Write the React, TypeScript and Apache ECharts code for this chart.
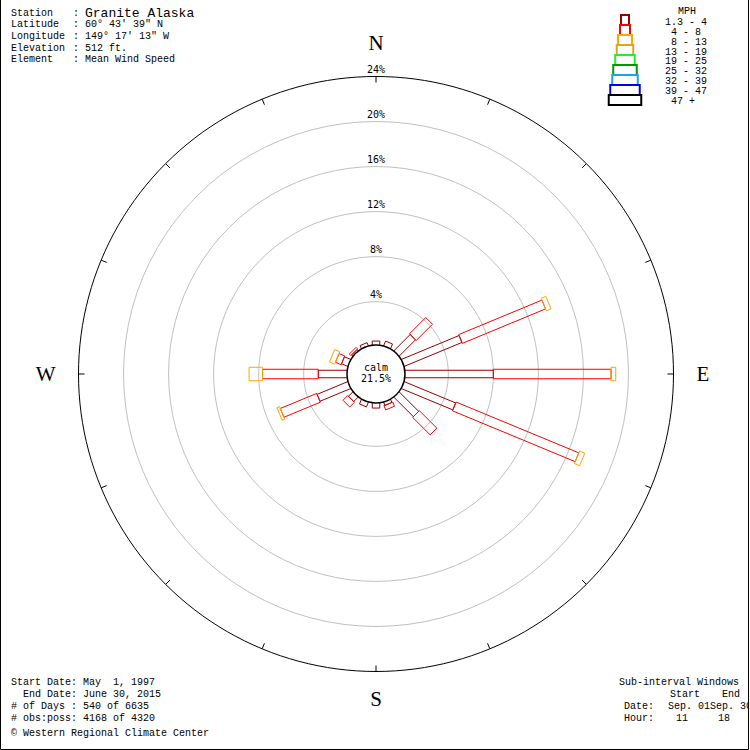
import React, { useEffect, useRef } from 'react';
import * as echarts from 'echarts';

// ---------- data ----------
const DIRECTIONS = ['N', 'NNE', 'NE', 'ENE', 'E', 'ESE', 'SE', 'SSE', 'S', 'SSW', 'SW', 'WSW', 'W', 'WNW', 'NW', 'NNW'];
const CARDINALS = ['N', 'E', 'S', 'W'];
const SPEED_CLASSES = ['1.3 - 4', ' 4 - 8', ' 8 - 13', '13 - 19', '19 - 25', '25 - 32', '32 - 39', '39 - 47', ' 47 +'];
// percent of observations by direction, per speed class (mph)
const PCT_1_4 = [0.5, 0.6, 2.2, 5.7, 8.0, 5.1, 2.6, 0.45, 0.6, 0.6, 0.7, 3.1, 2.7, 0.75, 0.3, 0.45];
const PCT_4_8 = [0, 0, 2.05, 8.0, 10.45, 11.8, 2.2, 0.4, 0, 0, 0.6, 3.5, 4.95, 0.55, 0.2, 0];
const PCT_8_13 = [0, 0, 0, 0.45, 0.42, 0.5, 0, 0, 0, 0, 0, 0.25, 1.2, 0.5, 0, 0];
const CLASS_PCTS = [PCT_1_4, PCT_4_8, PCT_8_13];
const CALM_PCT = 21.5;
const RING_MAX = 24;
const RING_STEP = 4;

const HEADER_LABELS = ['Station', 'Latitude', 'Longitude', 'Elevation', 'Element'];
const HEADER_VALUES = ['Granite Alaska', '60\u00b0 43\' 39" N', '149\u00b0 17\' 13" W', '512 ft.', 'Mean Wind Speed'];
const FOOTER_LINES = ['Start Date: May  1, 1997', 'End Date: June 30, 2015', '# of Days : 540 of 6635', '# obs:poss: 4168 of 4320', '\u00a9 Western Regional Climate Center'];
const WINDOW_TITLE = 'Sub-interval Windows';
const WINDOW_HEAD = ['Start', 'End'];
const WINDOW_DATE = ['Date:', 'Sep. 01Sep. 30'];
const WINDOW_HOUR = ['Hour:', '11', '18'];

// ---------- styles / layout ----------
const CLASS_COLORS = ['#990000', '#ff0000', '#ffa500', '#daa520', '#22ee22', '#009900', '#1ea0f0', '#0000ee', '#000000'];
const CLASS_WIDTHS = [7.5, 9.5, 13.5, 16, 19, 23, 25, 29, 32];
const SECTOR = 360 / DIRECTIONS.length;
const CX = 376;
const CY = 374;
const R_IN = 27.3;
const R_OUT = 297.5;
const CALM_R = 29;
const MONO = 'Liberation Mono';
const MONO2 = 'DejaVu Sans Mono';

function buildSegments() {
  const out: any[] = [];
  for (let c = 0; c < CLASS_PCTS.length; c++) {
    for (let d = 0; d < DIRECTIONS.length; d++) {
      let start = 0;
      for (let k = 0; k < c; k++) start += CLASS_PCTS[k][d];
      const v = CLASS_PCTS[c][d];
      if (v > 0) out.push([d * SECTOR, c, start, start + v]);
    }
  }
  return out;
}

function renderPetal(params: any, api: any) {
  const a = api.value(0);
  const c = api.value(1);
  const s = api.value(2);
  const e = api.value(3);
  const p0 = api.coord([s, a]);
  const p1 = api.coord([e, a]);
  const th = ((90 - a) * Math.PI) / 180;
  const ux = Math.cos(th);
  const uy = -Math.sin(th);
  const nx = -uy;
  const ny = ux;
  const hw = CLASS_WIDTHS[c] / 2;
  return {
    type: 'polygon',
    shape: {
      points: [
        [p0[0] + nx * hw, p0[1] + ny * hw],
        [p1[0] + nx * hw, p1[1] + ny * hw],
        [p1[0] - nx * hw, p1[1] - ny * hw],
        [p0[0] - nx * hw, p0[1] - ny * hw],
      ],
    },
    style: { fill: 'none', stroke: CLASS_COLORS[c], lineWidth: 1 },
  };
}

function buildGraphics() {
  const g: any[] = [];
  const txt = (x: number, y: number, text: string, size = 10, family = MONO, extra: any = {}, z = 50) => ({
    type: 'text',
    x,
    y,
    z,
    style: { text, fontFamily: family, fontSize: size, fill: '#000', verticalAlign: 'middle', align: 'left', ...extra },
  });
  // header
  HEADER_LABELS.forEach((l, i) => {
    const y = 13 + i * 11.7;
    g.push(txt(11, y, l));
    g.push(txt(73, y, ':'));
    g.push(txt(85, y, HEADER_VALUES[i], i === 0 ? 13 : 10));
  });
  // footer left
  FOOTER_LINES.forEach((l, i) => {
    const y = [682, 694, 706, 718, 733][i];
    g.push(txt(i === 1 ? 23 : 11, y, l));
  });
  // footer right
  g.push(txt(619, 682, WINDOW_TITLE));
  g.push(txt(670, 694, WINDOW_HEAD[0]));
  g.push(txt(722, 694, WINDOW_HEAD[1]));
  g.push(txt(624, 706, WINDOW_DATE[0]));
  g.push(txt(668, 706, WINDOW_DATE[1]));
  g.push(txt(624, 718, WINDOW_HOUR[0]));
  g.push(txt(676, 718, WINDOW_HOUR[1]));
  g.push(txt(718, 718, WINDOW_HOUR[2]));
  // legend
  g.push(txt(687, 11, 'MPH', 10, MONO, { align: 'center' }));
  SPEED_CLASSES.forEach((l, i) => {
    const top = 15 + i * 10;
    const w = CLASS_WIDTHS[i] + 0.5;
    g.push({
      type: 'rect',
      z: 50,
      shape: { x: 625 - w / 2, y: top, width: w, height: 10 },
      style: { fill: 'none', stroke: CLASS_COLORS[i], lineWidth: 2 },
    });
    const lead = l.length - l.trimStart().length;
    g.push(txt(665 + lead * 6, 22.7 + i * 9.8, l.trimStart()));
  });
  // calm circle
  g.push({
    type: 'circle',
    z: 100,
    shape: { cx: CX, cy: CY, r: CALM_R },
    style: { fill: '#fff', stroke: '#000', lineWidth: 1.5 },
  });
  g.push(txt(CX, CY - 6.5, 'calm', 10, MONO2, { align: 'center' }, 101));
  g.push(txt(CX, CY + 4.5, CALM_PCT.toFixed(1) + '%', 10, MONO2, { align: 'center' }, 101));
  // frame
  g.push({ type: 'rect', z: 120, shape: { x: 749, y: 0, width: 1, height: 750 }, style: { fill: '#fff' } });
  g.push({
    type: 'polyline',
    z: 121,
    shape: { points: [[0.5, 0], [0.5, 749.5], [748.5, 749.5], [748.5, 0]] },
    style: { fill: 'none', stroke: '#000', lineWidth: 1 },
  });
  return g;
}

const dirOf = (v: number) => DIRECTIONS[Math.round(v / SECTOR)] || '';

export default function App() {
  const ref = useRef<HTMLDivElement>(null);
  useEffect(() => {
    if (!ref.current) return;
    const chart = echarts.init(ref.current, null, { renderer: 'svg' });
    const ringColors: string[] = [];
    for (let v = 0; v <= RING_MAX; v += RING_STEP) {
      ringColors.push(v === 0 || v === RING_MAX ? 'rgba(0,0,0,0)' : '#c0c0c0');
    }
    chart.setOption({
      animation: false,
      backgroundColor: '#fff',
      polar: [
        { center: [CX, CY], radius: [R_IN, R_OUT] },
        { center: [CX, CY], radius: R_OUT },
      ],
      angleAxis: [
        {
          polarIndex: 0,
          type: 'value',
          min: 0,
          max: 360,
          interval: SECTOR,
          startAngle: 90,
          clockwise: true,
          axisLine: { show: false },
          axisTick: { show: false },
          axisLabel: { show: false },
          splitLine: { show: false },
        },
        {
          polarIndex: 1,
          type: 'value',
          min: 0,
          max: 360,
          interval: SECTOR,
          startAngle: 90,
          clockwise: true,
          z: 5,
          axisLine: { show: true, lineStyle: { color: '#000', width: 1 } },
          axisTick: { show: true, inside: true, length: 6, lineStyle: { color: '#000', width: 1 } },
          axisLabel: {
            margin: 23,
            showMaxLabel: false,
            formatter: (v: number) => {
              if (v >= 360) return '';
              const d = dirOf(v);
              if (!CARDINALS.includes(d)) return '';
              return d === 'S' ? '{s|S}' : d;
            },
            fontFamily: 'Liberation Serif',
            fontSize: 21,
            color: '#000',
            rich: { s: { fontFamily: 'Liberation Serif', fontSize: 21, color: '#000', lineHeight: 9 } },
          },
          splitLine: { show: false },
        },
      ],
      radiusAxis: [
        {
          polarIndex: 0,
          type: 'value',
          min: 0,
          max: RING_MAX,
          interval: RING_STEP,
          axisLine: { show: false },
          axisTick: { show: false },
          splitLine: { show: true, lineStyle: { color: ringColors, width: 1 } },
          axisLabel: {
            formatter: (v: number) => (v === 0 ? '' : v + '%'),
            align: 'center',
            verticalAlign: 'bottom',
            margin: 0,
            padding: [0, 0, 2, 0],
            fontFamily: MONO2,
            fontSize: 10,
            color: '#000',
          },
        },
        { polarIndex: 1, type: 'value', show: false, min: 0, max: 1 },
      ],
      series: [
        {
          type: 'custom',
          coordinateSystem: 'polar',
          polarIndex: 0,
          silent: true,
          z: 3,
          encode: { radius: 3, angle: 0 },
          data: buildSegments(),
          renderItem: renderPetal,
        },
      ],
      graphic: buildGraphics(),
    });
    return () => chart.dispose();
  }, []);
  return (
    <div
      ref={ref}
      style={{ position: 'fixed', left: 0, top: 0, width: 750, height: 750, background: '#fff' }}
    />
  );
}
